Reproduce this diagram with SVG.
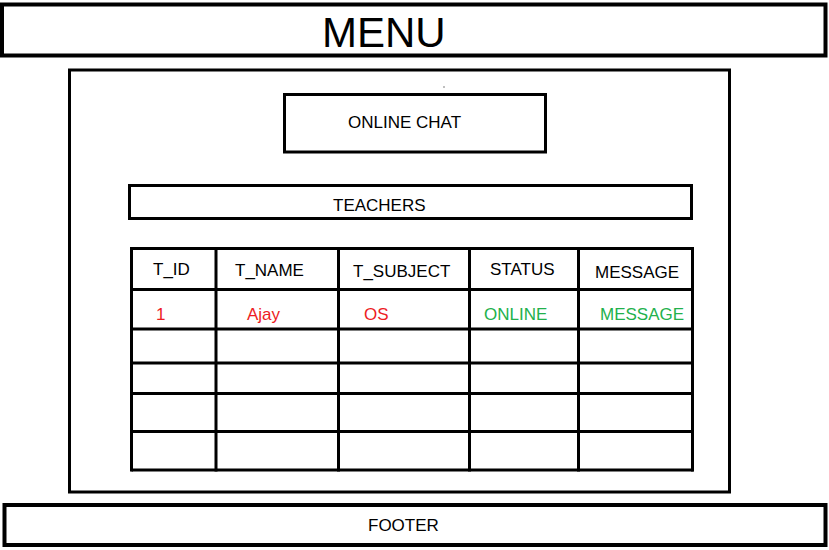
<svg xmlns="http://www.w3.org/2000/svg" width="829" height="550" viewBox="0 0 829 550">
<style>
.box{fill:none;stroke:#000;stroke-width:3}
.thick{fill:none;stroke:#000;stroke-width:4}
.grid{stroke:#000;stroke-width:3;fill:none}
text{font-family:"Liberation Sans",Arial,sans-serif;font-size:17px;fill:#000}
.red{fill:#ed1c24}
.green{fill:#22b14c}
</style>
<rect width="829" height="550" fill="#fff"/>
<g id="menu">
<rect class="thick" x="2" y="4.5" width="823.5" height="51"/>
<text x="322" y="47" style="font-size:42px">MENU</text>
</g>
<g id="content">
<rect class="box" x="69.5" y="70" width="660" height="422"/>
<rect x="443.5" y="86.5" width="1" height="1" fill="#000"/>
</g>
<g id="online-chat">
<rect class="box" x="284.5" y="94.5" width="261" height="57.5"/>
<text x="348" y="128">ONLINE CHAT</text>
</g>
<g id="teachers">
<rect class="box" x="129.5" y="185.5" width="562" height="33"/>
<text x="333" y="211">TEACHERS</text>
</g>
<g id="table">
<g class="grid">
<path d="M131.5 248.5H693.5M130 289.5H693.5M130 329H693.5M131.5 363H693.5M130 393.5H693.5M131.5 431.5H693.5M131.5 470H693.5"/>
<path d="M131.5 247V471.5M216 247V471.5M338.5 247V471.5M469.5 247V471.5M578.5 247V471.5M692.5 247V471.5"/>
</g>
<text x="153" y="275">T_ID</text>
<text x="235" y="276">T_NAME</text>
<text x="353" y="277">T_SUBJECT</text>
<text x="490" y="275">STATUS</text>
<text x="595" y="278">MESSAGE</text>
<text class="red" x="156" y="320">1</text>
<text class="red" x="247" y="320">Ajay</text>
<text class="red" x="364" y="320">OS</text>
<text class="green" x="484" y="320">ONLINE</text>
<text class="green" x="600" y="320">MESSAGE</text>
</g>
<g id="footer">
<rect class="thick" x="4.5" y="505" width="821" height="40"/>
<text x="368" y="531">FOOTER</text>
</g>
</svg>
